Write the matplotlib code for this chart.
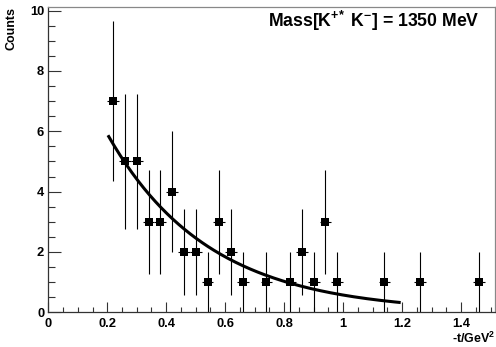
import numpy as np
import matplotlib
matplotlib.use("Agg")
import matplotlib.pyplot as plt
from matplotlib.ticker import MultipleLocator, FuncFormatter

plt.rcParams['font.family'] = ['Liberation Sans', 'DejaVu Sans']
plt.rcParams['font.weight'] = 'bold'
plt.rcParams['mathtext.fontset'] = 'custom'
plt.rcParams['mathtext.rm'] = 'Liberation Sans:bold'
plt.rcParams['mathtext.it'] = 'Liberation Sans:bold'
plt.rcParams['mathtext.bf'] = 'Liberation Sans:bold'
plt.rcParams['mathtext.default'] = 'rm'

# data
t_centers = [0.22, 0.26, 0.30, 0.34, 0.38, 0.42, 0.46, 0.50, 0.54, 0.58, 0.62,
             0.66, 0.74, 0.82, 0.86, 0.90, 0.94, 0.98, 1.14, 1.26, 1.46]
counts = [7, 5, 5, 3, 3, 4, 2, 2, 1, 3, 2, 1, 1, 1, 2, 1, 3, 1, 1, 1, 1]
count_err = [2.65, 2.24, 2.24, 1.73, 1.73, 2.0, 1.41, 1.41, 1.0, 1.73, 1.41,
             1.0, 1.0, 1.0, 1.41, 1.0, 1.73, 1.0, 1.0, 1.0, 1.0]
t_halfwidth = [0.02] * len(t_centers)

# exponential fit parameters
fit_A = 10.6
fit_b = 2.92
fit_range = (0.205, 1.19)

x_ticks = [0, 0.2, 0.4, 0.6, 0.8, 1.0, 1.2, 1.4]
y_ticks = [0, 2, 4, 6, 8, 10]

fig = plt.figure(figsize=(4.96, 3.47), dpi=100)
ax = fig.add_axes([48.3/496, 1-312.3/347, (495-48.3)/496, (312.3-7.3)/347])

ax.errorbar(t_centers, counts, yerr=count_err, xerr=t_halfwidth, fmt='s',
            color='black', ms=5.5, elinewidth=0.8, capsize=1.5, capthick=0.8,
            markeredgewidth=0)

tf = np.linspace(fit_range[0], fit_range[1], 200)
ax.plot(tf, fit_A*np.exp(-fit_b*tf), color='black', lw=2.2)

ax.set_xlim(0, 1.515)
ax.set_ylim(0, 10.11)
ax.set_xticks(x_ticks)
ax.set_yticks(y_ticks)
ax.xaxis.set_minor_locator(MultipleLocator(0.05))
ax.yaxis.set_minor_locator(MultipleLocator(0.5))
ax.xaxis.set_major_formatter(FuncFormatter(lambda v, p: '%g' % v))
ax.yaxis.set_major_formatter(FuncFormatter(lambda v, p: '%g' % v))
ax.tick_params(axis='both', which='both', direction='in', top=False, right=False,
               labelsize=9.3, width=0.8, color='#333333')
ax.tick_params(axis='x', which='major', length=7, pad=4)
ax.tick_params(axis='x', which='minor', length=3.6)
ax.tick_params(axis='y', which='major', length=9.4, pad=3)
ax.tick_params(axis='y', which='minor', length=4.7)
for lab in ax.get_xticklabels() + ax.get_yticklabels():
    lab.set_fontweight('bold')

for s in ['left', 'bottom']:
    ax.spines[s].set_color('#333333')
    ax.spines[s].set_linewidth(0.9)
for s in ['top', 'right']:
    ax.spines[s].set_color('#888888')
    ax.spines[s].set_linewidth(0.9)

ax.set_ylabel('Counts', loc='top', fontsize=9, fontweight='bold', labelpad=9)
ax.set_xlabel('-t/GeV$^{2}$', loc='right', fontsize=9, fontweight='bold', labelpad=1)

fig.text(374/496, 1-27/347, r'Mass[K$^{+\!*}$ K$^{-}$] = 1350 MeV', ha='center',
         va='baseline', fontsize=12.7, fontweight='bold')

fig.savefig('out.png', dpi=100)
